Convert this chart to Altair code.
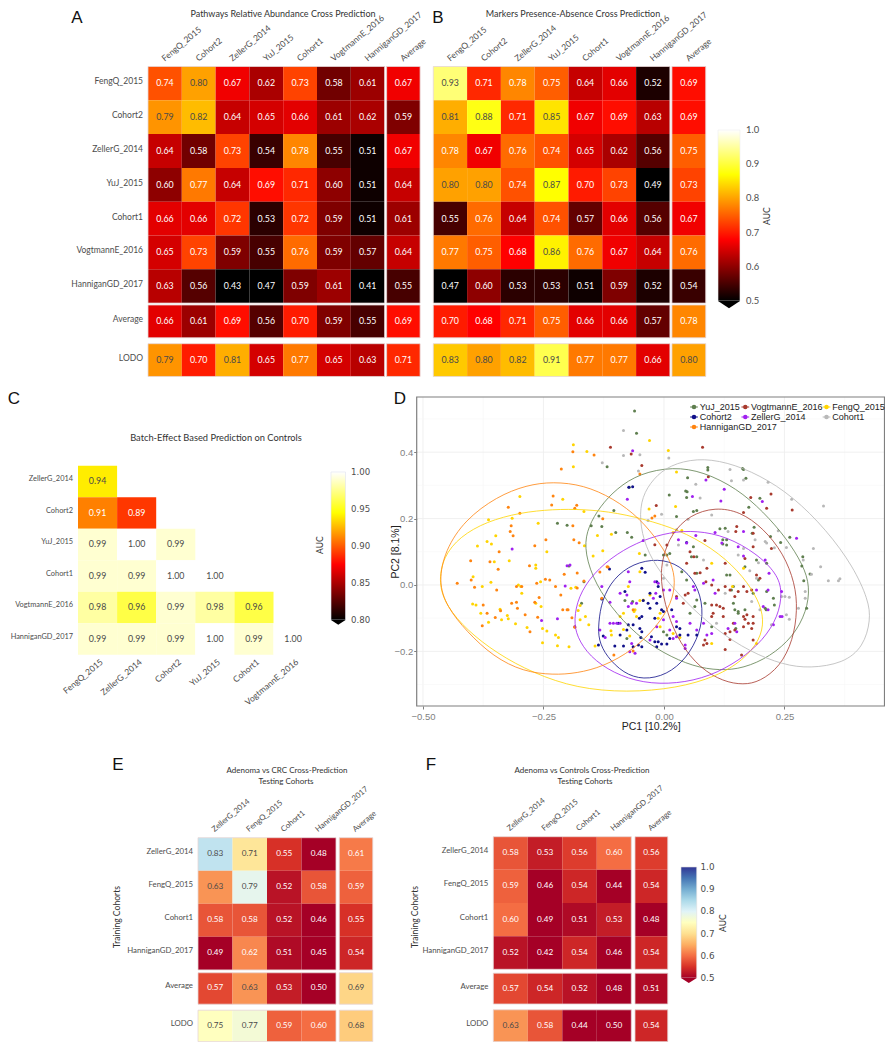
import altair as alt
import pandas as pd

alt.data_transformers.disable_max_rows()

W, H = 877, 1034
LABEL_FONT = "Lato"
PLOT_FONT = "Liberation Sans"
TXT = "#4d4d4d"

names7 = ["FengQ_2015", "Cohort2", "ZellerG_2014", "YuJ_2015", "Cohort1", "VogtmannE_2016", "HanniganGD_2017"]
rows_ab = names7 + ["Average", "LODO"]
cols_ab = names7 + ["Average"]

auc_a = [
    [.74, .80, .67, .62, .73, .58, .61, .67],
    [.79, .82, .64, .65, .66, .61, .62, .59],
    [.64, .58, .73, .54, .78, .55, .51, .67],
    [.60, .77, .64, .69, .71, .60, .51, .64],
    [.66, .66, .72, .53, .72, .59, .51, .61],
    [.65, .73, .59, .55, .76, .59, .57, .64],
    [.63, .56, .43, .47, .59, .61, .41, .55],
    [.66, .61, .69, .56, .70, .59, .55, .69],
    [.79, .70, .81, .65, .77, .65, .63, .71],
]
auc_b = [
    [.93, .71, .78, .75, .64, .66, .52, .69],
    [.81, .88, .71, .85, .67, .69, .63, .69],
    [.78, .67, .76, .74, .65, .62, .56, .75],
    [.80, .80, .74, .87, .70, .73, .49, .73],
    [.55, .76, .64, .74, .57, .66, .56, .67],
    [.77, .75, .68, .86, .76, .67, .64, .76],
    [.47, .60, .53, .53, .51, .59, .52, .54],
    [.70, .68, .71, .75, .66, .66, .57, .78],
    [.83, .80, .82, .91, .77, .77, .66, .80],
]
rows_c = ["ZellerG_2014", "Cohort2", "YuJ_2015", "Cohort1", "VogtmannE_2016", "HanniganGD_2017"]
cols_c = ["FengQ_2015", "ZellerG_2014", "Cohort2", "YuJ_2015", "Cohort1", "VogtmannE_2016"]
auc_c = [
    [.94],
    [.91, .89],
    [.99, 1.00, .99],
    [.99, .99, 1.00, 1.00],
    [.98, .96, .99, .98, .96],
    [.99, .99, .99, 1.00, .99, 1.00],
]
rows_ef = ["ZellerG_2014", "FengQ_2015", "Cohort1", "HanniganGD_2017", "Average", "LODO"]
cols_ef = ["ZellerG_2014", "FengQ_2015", "Cohort1", "HanniganGD_2017", "Average"]
auc_e = [
    [.83, .71, .55, .48, .61],
    [.63, .79, .52, .58, .59],
    [.58, .58, .52, .46, .55],
    [.49, .62, .51, .45, .54],
    [.57, .63, .53, .50, .69],
    [.75, .77, .59, .60, .68],
]
auc_f = [
    [.58, .53, .56, .60, .56],
    [.59, .46, .54, .44, .54],
    [.60, .49, .51, .53, .48],
    [.52, .42, .54, .46, .54],
    [.57, .54, .52, .48, .51],
    [.63, .58, .44, .50, .54],
]

hot_ab = ([.5, .68, .87, 1.0], ["#000000", "#ff0000", "#ffff00", "#ffffff"])
hot_c = ([.8, .875, .945, 1.0], ["#000000", "#ff0000", "#ffff00", "#ffffff"])
rdylbu_dom = [.5, .55, .6, .65, .7, .75, .8, .85, .9, .95, 1.0]
rdylbu_col = ["#a50026", "#d73027", "#f46d43", "#fdae61", "#fee090", "#ffffbf",
              "#e0f3f8", "#abd9e9", "#74add1", "#4575b4", "#313695"]

series = ["YuJ_2015", "VogtmannE_2016", "FengQ_2015", "Cohort2", "ZellerG_2014", "Cohort1", "HanniganGD_2017"]
series_colors = ["#5f7f4f", "#a83a2e", "#ffd400", "#10108a", "#a020f0", "#b8b8b8", "#ff8410"]

pts_hannigan = [(-.429,.005),(-.400,.015),(-.393,-.007),(-.401,.073),(-.361,.070),(-.344,.047),(-.342,.100),(-.317,.178),
(-.319,.161),(-.313,.148),(-.299,.216),(-.323,.234),(-.268,.118),(-.245,.136),(-.279,.058),(-.264,.005),(-.246,.017),
(-.237,.015),(-.225,-.005),(-.306,-.005),(-.295,-.005),(-.347,-.015),(-.375,-.060),(-.367,-.085),(-.377,-.123),
(-.350,-.098),(-.339,-.078),(-.316,-.055),(-.306,-.052),(-.288,-.090),(-.304,-.070),(-.278,-.141),(-.262,-.097),
(-.259,-.038),(-.268,-.052),(-.230,.268),(-.233,.241),(-.213,.349),(-.189,.401),(-.145,.391),(-.185,.231),(-.189,.178),
(-.187,.136),(-.207,.032),(-.214,-.030),(-.210,-.075),(-.201,-.075),(-.118,.055),(-.129,-.040),(-.104,-.211),(-.050,.334),
(-.176,.127),(-.180,.036),(-.185,-.127),(-.191,-.099),(-.180,-.009),(-.166,.012),(-.133,.039),(-.116,.054),(-.064,-.075),
(-.064,-.199),(-.127,.199),(-.025,.202),(-.019,.208),(-.181,.240),(-.199,-.075)]
pts_feng = [(-.397,-.057),(-.390,-.060),(-.380,-.085),(-.364,-.112),(-.387,.117),(-.367,.131),(-.358,.123),(-.349,.148),
(-.364,.196),(-.315,.201),(-.299,.266),(-.261,.186),(-.243,.100),(-.321,.073),(-.352,.070),(-.266,.060),(-.266,.050),
(-.396,.025),(-.359,.008),(-.377,-.005),(-.302,.000),(-.297,-.005),(-.295,-.025),(-.256,.010),(-.266,-.055),(-.255,-.065),
(-.340,-.073),(-.337,-.105),(-.325,-.092),(-.323,-.102),(-.308,-.117),(-.284,-.128),(-.252,-.131),(-.243,-.139),(-.252,-.174),
(-.225,-.151),(-.219,-.158),(-.221,-.183),(-.197,-.186),(-.188,.356),(-.188,.422),(-.160,.402),(-.210,.258),(-.166,.221),
(-.138,.149),(-.147,.087),(-.127,.103),(-.109,.153),(-.165,.118),(-.193,-.010),(-.183,-.007),(-.174,-.062),(-.178,-.077),
(-.163,-.095),(-.174,-.105),(-.185,-.126),(-.156,-.120),(-.143,-.184),(-.110,-.138),(-.109,-.151),(-.084,-.134),(-.091,-.095),
(-.060,-.075),(-.057,-.095),(-.030,.435),(.009,.405),(.026,.340),(.024,.236),(-.031,.229),(.192,-.176),(.099,.065),(.037,.164),
(.019,.158),(-.071,-.154),(-.008,-.085),(-.043,-.045),(-.029,-.030),(-.074,-.005),(-.050,.040),(-.051,.095),(-.050,-.047),
(-.084,-.085),(-.062,-.080),(-.012,-.100),(-.008,-.126),(.019,-.146),(.033,-.158),(.099,-.176),(.142,-.005),(.165,.050)]
pts_cohort2 = [(-.113,.048),(-.039,.038),(-.046,.050),(-.129,-.042),(-.126,-.154),(-.136,-.181),(-.102,-.184),(-.084,-.184),
(-.064,-.186),(-.053,-.181),(-.046,-.186),(-.015,-.186),(-.012,-.171),(-.005,-.178),(.006,-.178),(-.019,-.171),(-.050,-.131),
(-.046,-.141),(-.074,-.120),(-.077,-.136),(-.091,-.151),(-.051,-.100),(-.046,-.095),(-.019,-.100),(-.005,-.075),(.016,-.075),
(-.001,-.080),(-.029,-.070),(-.015,-.055),(-.008,-.035),(-.029,-.025),(-.012,-.005),(-.015,.010),(-.033,-.055),(-.043,-.047),
(.047,.128),(-.065,.296),(-.073,.294),(.026,-.126),(.033,-.131),(.050,-.151),(.068,-.151),(.033,-.151),(-.026,-.156),(.012,-.161),
(-.081,-.020),(-.095,-.115),(-.064,-.120),(-.048,-.158)]
pts_zeller = [(-.315,.108),(-.065,.404),(-.076,.258),(.125,.288),(.059,.266),(.118,.253),(.087,.316),(.204,.251),(.275,.141),
(.218,.035),(.244,-.020),(.245,-.095),(.210,.075),(.165,.087),(.165,.161),(.106,.158),(.066,.149),(.030,.136),(.047,.126),
(-.195,.060),(-.201,.058),(-.205,-.003),(-.254,-.107),(-.221,-.102),(-.185,-.126),(-.129,-.005),(-.112,-.052),(-.091,-.025),
(-.071,.010),(-.074,.040),(-.043,.134),(-.105,-.115),(-.098,-.115),(-.074,-.065),(-.067,-.055),(-.019,.010),(-.012,.005),
(-.017,-.025),(-.022,-.040),(.012,-.015),(.026,-.040),(.064,-.015),(.061,-.005),(.082,.005),(.102,.015),(.106,-.025),(.154,.115),
(.120,.126),(.216,-.075),(.216,-.015),(.192,-.015),(.206,-.065),(.241,-.095),(.227,-.120),(.044,-.191),(.044,-.181),(.068,-.136),
(.089,-.151),(.099,-.146),(.082,-.115),(.054,-.115),(.026,-.110),(.019,-.095),(-.001,-.105),(.026,-.156),(.019,-.161),(-.015,-.126),
(-.091,-.115),(-.112,-.115),(-.133,-.136),(-.122,-.158),(-.067,-.176),(-.060,-.206),(-.071,-.201),(-.029,-.166),(.012,-.136),
(.151,-.141),(.147,-.115),(.133,-.131),(-.057,-.055),(-.001,-.015),(-.077,-.030)]
pts_vogtmann = [(-.111,.415),(-.068,.394),(-.046,.360),(-.016,.239),(.080,.415),(.092,.326),(.222,.274),(.180,.263),(.266,.226),
(.213,.231),(.165,.218),(.151,.176),(.149,.161),(.185,.156),(.127,.065),(.168,.080),(.185,.115),(.223,.110),(.192,.030),(.199,.020),
(.089,.050),(.075,.037),(.064,.035),(.047,.065),(.054,.100),(.062,.085),(.085,.134),(-.019,.121),(.006,.120),(.087,.010),(.099,.000),
(.113,-.015),(.127,-.005),(.137,-.015),(.165,-.005),(.172,-.020),(.182,-.015),(.154,-.020),(.147,-.035),(.044,-.030),(.050,-.025),
(.099,-.060),(.116,-.065),(.123,-.070),(.102,-.085),(.099,-.095),(.165,-.095),(.185,-.095),(.175,-.115),(.185,-.115),(.182,-.131),
(.165,-.126),(.185,-.166),(.161,-.211),(.127,-.194),(.085,-.166),(.089,-.176),(.082,-.181),(.127,-.146),(.137,-.141),(.144,-.115),
(.147,-.136),(.137,-.164),(.168,-.103),(.172,-.090),(.109,-.060),(.123,-.095),(.040,-.055),(.026,-.035)]
pts_yuj = [(-.061,.524),(-.057,.457),(-.118,.356),(-.072,.294),(.011,.271),(.049,.323),(.045,.283),(.048,.281),(.047,.263),(.091,.354),
(.091,.346),(.163,.351),(.165,.348),(.170,.321),(.199,.261),(.176,.234),(-.135,.208),(-.104,.224),(-.221,.186),(-.201,.180),(-.151,.178),
(-.129,.176),(-.100,.158),(-.076,.158),(-.067,.144),(.026,.206),(.061,.221),(.068,.224),(.116,.169),(.127,.171),(.122,.136),(.130,.136),
(.122,.123),(.130,.120),(.183,.156),(.187,.174),(.221,.146),(.242,.128),(.261,.144),(.288,.085),(.286,.057),(.303,.033),(.213,.065),
(.290,.013),(.227,-.040),(.229,-.060),(.210,-.070),(.212,-.075),(.213,-.020),(.296,-.070),(-.197,.057),(-.166,.010),(-.171,-.055),
(-.081,-.047),(-.065,-.050),(-.039,.090),(-.001,.090),(.006,.090),(.012,.095),(.061,.115),(.068,.085),(.057,.085),(.037,.040),(.068,.035),
(.047,.015),(.137,.030),(.130,.030),(.168,.055),(.196,.015),(.144,-.005),(.140,-.015),(.144,-.055),(.147,-.075),(.154,-.080),(.154,-.085),
(.149,-.131),(.068,-.045),(.054,-.085),(.085,-.055),(.099,-.126),(-.001,-.141),(.006,-.151),(-.077,-.161),(.064,-.065),(.192,.075),
(.185,-.025),(.168,-.075)]
pts_cohort1 = [(-.084,.465),(-.084,.390),(-.050,.392),(-.128,.368),(-.053,.343),(.010,.382),(.066,.303),(.075,.262),(.137,.348),(.140,.314),
(.165,.316),(.216,.309),(.265,.258),(.331,.238),(.237,.163),(.210,.131),(.189,.136),(.213,.126),(.229,.112),(.254,.113),(.289,.075),
(.310,.110),(.306,.032),(.325,.055),(.341,.013),(.362,.013),(.365,.019),(.293,-.020),(.293,-.040),(.251,-.035),(.260,-.037),(.244,-.035),
(.254,-.090),(.260,-.103),(.223,-.120),(.196,.067),(.178,.043),(.192,.020),(-.005,.213),(-.033,.194),(.030,.120),(.026,.166),(.050,.198),
(.099,.211),(.133,.161),(.165,.110),(.154,.090),(.279,-.070),(-.001,.020),(.006,.060),(.082,.075),(.182,-.050),(.199,-.075),(.127,-.025),(.109,-.115)]

ell_hannigan = [(-.468,.010),(-.454,.105),(-.413,.196),(-.347,.266),(-.285,.301),(-.230,.311),(-.167,.301),(-.105,.261),(-.050,.201),
(-.008,.125),(.016,.065),(.024,.010),(.016,-.055),(-.015,-.126),(-.064,-.196),(-.126,-.246),(-.181,-.266),(-.230,-.271),(-.292,-.261),
(-.354,-.216),(-.409,-.141),(-.451,-.065)]
ell_feng = [(-.468,.005),(-.458,.085),(-.423,.146),(-.368,.191),(-.299,.218),(-.230,.228),(-.167,.228),(-.098,.218),(-.022,.191),(.047,.156),
(.116,.095),(.165,.025),(.196,-.045),(.208,-.105),(.199,-.166),(.165,-.226),(.109,-.276),(.026,-.311),(-.077,-.324),(-.181,-.311),
(-.271,-.266),(-.347,-.206),(-.409,-.136),(-.451,-.065)]
ell_yuj = [(-.166,.115),(-.157,.176),(-.133,.236),(-.098,.291),(-.050,.336),(.019,.356),(.082,.341),(.151,.291),(.206,.221),(.254,.141),
(.289,.060),(.303,-.005),(.296,-.080),(.268,-.156),(.220,-.216),(.165,-.251),(.116,-.258),(.061,-.246),(-.001,-.206),(-.057,-.151),
(-.112,-.065),(-.150,.025)]
ell_cohort1 = [(-.051,.196),(-.046,.266),(-.022,.321),(.012,.361),(.068,.382),(.130,.371),(.199,.331),(.268,.266),(.337,.166),(.393,.055),
(.424,-.045),(.429,-.105),(.414,-.186),(.372,-.236),(.303,-.251),(.248,-.241),(.178,-.201),(.109,-.136),(.047,-.055),(-.008,.035),(-.039,.115)]
ell_vogtmann = [(-.008,.015),(-.003,.085),(.016,.156),(.054,.211),(.106,.234),(.158,.221),(.206,.171),(.248,.095),(.272,.005),(.277,-.075),
(.268,-.166),(.241,-.246),(.199,-.291),(.165,-.301),(.123,-.291),(.075,-.251),(.033,-.176),(.006,-.085)]
ell_zeller = [(-.187,-.105),(-.178,-.035),(-.147,.035),(-.098,.095),(-.043,.136),(.012,.159),(.068,.164),(.130,.146),(.192,.095),(.234,.035),
(.246,-.020),(.237,-.095),(.206,-.166),(.158,-.226),(.095,-.276),(.026,-.298),(-.043,-.296),(-.105,-.266),(-.154,-.216),(-.181,-.156)]
ell_cohort2 = [(-.136,-.115),(-.129,-.045),(-.105,.020),(-.064,.065),(-.012,.080),(.033,.060),(.068,.005),(.082,-.070),(.075,-.146),
(.047,-.221),(.006,-.271),(-.043,-.286),(-.084,-.266),(-.119,-.216),(-.136,-.166)]

points_by_series = {"YuJ_2015": pts_yuj, "VogtmannE_2016": pts_vogtmann, "FengQ_2015": pts_feng, "Cohort2": pts_cohort2,
                    "ZellerG_2014": pts_zeller, "Cohort1": pts_cohort1, "HanniganGD_2017": pts_hannigan}
ellipses_by_series = {"YuJ_2015": ell_yuj, "VogtmannE_2016": ell_vogtmann, "FengQ_2015": ell_feng, "Cohort2": ell_cohort2,
                      "ZellerG_2014": ell_zeller, "Cohort1": ell_cohort1, "HanniganGD_2017": ell_hannigan}


def page_x(v):
    return v - 8


def page_y(v):
    return v - 8


def lin(domain, rng):
    return alt.Scale(domain=list(domain), range=[page_x(rng[0]), page_x(rng[1])], nice=False, zero=False, clamp=False)


identity_x = alt.Scale(domain=[0, W], range=[0, W], nice=False, zero=False)
identity_y = alt.Scale(domain=[0, H], range=[0, H], nice=False, zero=False)


def page_text(items, size, color=TXT, font=LABEL_FONT, angle=0, align="center", weight="normal"):
    df = pd.DataFrame([{"t": t, "x": page_x(x), "y": page_y(y)} for t, x, y in items])
    kw = dict(fontSize=size, color=color, font=font, align=align, baseline="middle", fontWeight=weight)
    if angle:
        kw["angle"] = angle
    return alt.Chart(df).mark_text(**kw).encode(
        x=alt.X("x:Q", scale=identity_x, axis=None),
        y=alt.Y("y:Q", scale=identity_y, axis=None),
        text="t:N",
    )


def heat_panel(matrix, rows, cols, x_left, y_top, cw, rh, col_gap, col_last, row_gap1, row_h1, row_gap2, row_h2,
               n_main_rows, cscale, dark_from, fs, lab_fs, top_labels=True, show_rows=True, row_fs=None):
    col_edges = []
    for j in range(len(cols)):
        if j < len(cols) - 1:
            col_edges.append((j, j + 1))
        else:
            col_edges.append((j + col_gap, j + col_gap + col_last))
    row_edges = []
    for i in range(len(rows)):
        if i < n_main_rows:
            row_edges.append((i, i + 1))
        elif i == n_main_rows:
            row_edges.append((i + row_gap1, i + row_gap1 + row_h1))
        else:
            a = n_main_rows + row_gap1 + row_h1 + row_gap2
            row_edges.append((a, a + row_h2))
    xmax = col_edges[-1][1]
    ymax = row_edges[-1][1]
    xs = lin([0, xmax], (x_left, x_left + xmax * cw))
    ys = lin([0, ymax], (y_top, y_top + ymax * rh))
    recs = []
    for i, row in enumerate(matrix):
        for j, v in enumerate(row):
            recs.append({"x0": col_edges[j][0], "x1": col_edges[j][1], "y0": row_edges[i][0], "y1": row_edges[i][1],
                         "xc": sum(col_edges[j]) / 2, "yc": sum(row_edges[i]) / 2, "v": v, "t": f"{v:.2f}",
                         "ink": "#4a4a4a" if v >= dark_from else "#ffffff"})
    df = pd.DataFrame(recs)
    X = alt.X("x0:Q", scale=xs, axis=None)
    Y = alt.Y("y0:Q", scale=ys, axis=None)
    cells = alt.Chart(df).mark_rect().encode(
        x=X, x2="x1:Q", y=Y, y2="y1:Q",
        color=alt.Color("v:Q", scale=alt.Scale(domain=cscale[0], range=cscale[1], clamp=True, interpolate="rgb"), legend=None),
    )
    nums = alt.Chart(df).mark_text(fontSize=fs, font=LABEL_FONT, baseline="middle").encode(
        x=alt.X("xc:Q", scale=xs, axis=None), y=alt.Y("yc:Q", scale=ys, axis=None), text="t:N",
        color=alt.Color("ink:N", scale=None),
    )
    out = [cells]
    block_recs = []
    if top_labels:
        main_x = (col_edges[0][0], col_edges[-2][1])
        last_x = col_edges[-1]
        for ra, rb in ((0, n_main_rows), row_edges[n_main_rows], row_edges[n_main_rows + 1]):
            for xa, xb in (main_x, last_x):
                block_recs.append({"x0": xa, "x1": xb, "y0": ra, "y1": rb})
        blocks = alt.Chart(pd.DataFrame(block_recs)).mark_rect(filled=False, stroke="#e6d5d5", strokeWidth=0.8).encode(
            x=X, x2="x1:Q", y=Y, y2="y1:Q")
        out.append(blocks)
    out.append(nums)
    if show_rows:
        row_df = pd.DataFrame([{"t": r, "x": -5.0 / cw, "y": sum(row_edges[i]) / 2 - 2.0 / rh} for i, r in enumerate(rows)])
        out.append(alt.Chart(row_df).mark_text(fontSize=row_fs or lab_fs, font=LABEL_FONT, color=TXT, align="right", baseline="middle").encode(
            x=alt.X("x:Q", scale=xs, axis=None), y=alt.Y("y:Q", scale=ys, axis=None), text="t:N"))
    if top_labels:
        col_df = pd.DataFrame([{"t": c, "x": sum(col_edges[j]) / 2 - 2.0 / cw, "y": -7.0 / rh} for j, c in enumerate(cols)])
    else:
        col_df = pd.DataFrame([{"t": c, "x": sum(col_edges[j]) / 2 + 4.0 / cw, "y": ymax + 6.0 / rh} for j, c in enumerate(cols)])
    out.append(alt.Chart(col_df).mark_text(fontSize=lab_fs, font=LABEL_FONT, color=TXT, angle=320,
                                           align="left" if top_labels else "right", baseline="middle").encode(
        x=alt.X("x:Q", scale=xs, axis=None), y=alt.Y("y:Q", scale=ys, axis=None), text="t:N"))
    return out


def color_key(domain, stops, ticks, fmt, x0, x1, y_bottom, y_top, tip_color, label_x, label_font, label_fs, border):
    ys = lin(domain, (y_bottom, y_top))
    bar = pd.DataFrame({"x0": [page_x(x0)], "x1": [page_x(x1)], "lo": [domain[0]], "hi": [domain[1]]})
    grad = alt.Gradient(gradient="linear", x1=0, y1=1, x2=0, y2=0,
                        stops=[alt.GradientStop(color=c, offset=o) for o, c in stops])
    gbar = alt.Chart(bar).mark_rect(color=grad, stroke=border, strokeWidth=0.6).encode(
        x=alt.X("x0:Q", scale=identity_x, axis=None), x2="x1:Q",
        y=alt.Y("lo:Q", scale=ys, axis=None), y2="hi:Q")
    tip = pd.DataFrame({"x": [page_x((x0 + x1) / 2)], "y": [domain[0]]})
    width = x1 - x0
    tipm = alt.Chart(tip).mark_point(shape="M-1,0L1,0L0,0.65Z", filled=True, color=tip_color, opacity=1,
                                     size=width * width, strokeWidth=0).encode(
        x=alt.X("x:Q", scale=identity_x, axis=None), y=alt.Y("y:Q", scale=ys, axis=None))
    lab = pd.DataFrame({"x": [page_x(label_x)] * len(ticks), "y": ticks, "t": [format(t, fmt) for t in ticks]})
    labs = alt.Chart(lab).mark_text(fontSize=label_fs, font=label_font, color=TXT, align="left", baseline="middle").encode(
        x=alt.X("x:Q", scale=identity_x, axis=None), y=alt.Y("y:Q", scale=ys, axis=None), text="t:N")
    return [gbar, tipm, labs]


layers = []

# Panels A and B
layers += heat_panel(auc_a, rows_ab, cols_ab, 148, 66.5, 33.8, 33.8, .06, .99, .056, .97, .175, .97, 7, hot_ab, .79, 8.8, 8.5)
layers += heat_panel(auc_b, rows_ab, cols_ab, 433.3, 66.5, 33.8, 33.8, .06, 1.0, .056, .97, .175, .97, 7, hot_ab, .79, 8.8, 8.5,
                     show_rows=False)
layers += color_key([.5, 1.0], [(0, "#000000"), (.36, "#ff0000"), (.74, "#ffff00"), (1, "#ffffff")],
                    [.5, .6, .7, .8, .9, 1.0], ".1f", 718, 740, 301, 130, "#000000", 746, LABEL_FONT, 9.4, "#eeeeee")

# Panel C
layers += heat_panel(auc_c, rows_c, cols_c, 78, 465.7, 39.1, 31.5, 0, 1, 0, 1, 0, 1, 6, hot_c, .92, 8.8, 8.5,
                     top_labels=False, row_fs=7.4)
layers += color_key([.8, 1.0], [(0, "#000000"), (.375, "#ff0000"), (.725, "#ffff00"), (1, "#ffffff")],
                    [.8, .85, .9, .95, 1.0], ".2f", 331, 345.5, 620, 472, "#000000", 351, "DejaVu Sans", 8.6, "#dfe3ee")

# Panel D
D_X0, D_X1, D_Y0, D_Y1 = -.513, .4575, -.3645, .566
dx = lin([D_X0, D_X1], (416.7, 884.5))
dy = lin([D_Y0, D_Y1], (706, 397))
frame = pd.DataFrame({"x0": [D_X0], "x1": [D_X1], "y0": [D_Y0], "y1": [D_Y1]})
grid_x_major = [-.5, -.25, 0, .25]
grid_x_minor = [-.375, -.125, .125, .375]
grid_y_major = [-.2, 0, .2, .4]
grid_y_minor = [-.3, -.1, .1, .3, .5]
xr = alt.X("x0:Q", scale=dx, axis=None)
yr = alt.Y("y0:Q", scale=dy, axis=None)
for vals, col, sw in ((grid_x_minor, "#f6f6f6", .6), (grid_x_major, "#eeeeee", .9)):
    g = pd.DataFrame({"x0": vals, "y0": D_Y0, "y1": D_Y1})
    layers.append(alt.Chart(g).mark_rule(color=col, strokeWidth=sw).encode(x=xr, y=yr, y2="y1:Q"))
for vals, col, sw in ((grid_y_minor, "#f6f6f6", .6), (grid_y_major, "#eeeeee", .9)):
    g = pd.DataFrame({"y0": vals, "x0": D_X0, "x1": D_X1})
    layers.append(alt.Chart(g).mark_rule(color=col, strokeWidth=sw).encode(x=xr, x2="x1:Q", y=yr))

pts = pd.DataFrame([{"s": s, "x": p[0], "y": p[1]} for s in series for p in points_by_series[s]])
ell = pd.DataFrame([{"s": s, "i": i, "x": p[0], "y": p[1]} for s in series for i, p in enumerate(ellipses_by_series[s])])
cs = alt.Scale(domain=series, range=series_colors)
axis_x = alt.Axis(values=grid_x_major, format=".2f", grid=False, offset=-(H - page_y(706)), title="PC1 [10.2%]",
                  labelFont=PLOT_FONT, labelFontSize=9.5, labelColor="#7f7f7f", tickColor="#7f7f7f", tickSize=3,
                  domain=False, titleFont=PLOT_FONT, titleFontSize=10.5, titleFontWeight="normal", titleColor="#222222",
                  titlePadding=1, labelPadding=2)
axis_y = alt.Axis(values=grid_y_major, format=".1f", grid=False, offset=-page_x(416.7), title="PC2 [8.1%]",
                  labelFont=PLOT_FONT, labelFontSize=9.5, labelColor="#7f7f7f", tickColor="#7f7f7f", tickSize=3,
                  domain=False, titleFont=PLOT_FONT, titleFontSize=10.5, titleFontWeight="normal", titleColor="#222222",
                  titlePadding=-7, labelPadding=1)
layers.append(alt.Chart(pts).mark_circle(size=9, opacity=1).encode(
    x=alt.X("x:Q", scale=dx, axis=axis_x), y=alt.Y("y:Q", scale=dy, axis=axis_y),
    color=alt.Color("s:N", scale=cs, legend=None)))
layers.append(alt.Chart(ell).mark_line(interpolate="basis-closed", strokeWidth=1, opacity=.8).encode(
    x=alt.X("x:Q", scale=dx, axis=None), y=alt.Y("y:Q", scale=dy, axis=None),
    color=alt.Color("s:N", scale=cs, legend=None), order="i:Q"))
layers.append(alt.Chart(frame).mark_rect(filled=False, stroke="#7f7f7f", strokeWidth=1.2).encode(
    x=xr, x2="x1:Q", y=yr, y2="y1:Q"))

# Panel D key
key_col_x = [694, 745.3, 826.5]
key_row_y = [407, 417, 427]
key_layout = [("YuJ_2015", 0, 0), ("VogtmannE_2016", 1, 0), ("FengQ_2015", 2, 0), ("Cohort2", 0, 1),
              ("ZellerG_2014", 1, 1), ("Cohort1", 2, 1), ("HanniganGD_2017", 0, 2)]
key_df = pd.DataFrame([{"s": s, "x": page_x(key_col_x[c]), "y": page_y(key_row_y[r])} for s, c, r in key_layout])
layers.append(alt.Chart(key_df).mark_point(shape="stroke", size=60, strokeWidth=1, opacity=1).encode(
    x=alt.X("x:Q", scale=identity_x, axis=None), y=alt.Y("y:Q", scale=identity_y, axis=None),
    color=alt.Color("s:N", scale=cs, legend=None)))
layers.append(alt.Chart(key_df).mark_circle(size=20, opacity=1).encode(
    x=alt.X("x:Q", scale=identity_x, axis=None), y=alt.Y("y:Q", scale=identity_y, axis=None),
    color=alt.Color("s:N", scale=cs, legend=None)))
layers.append(page_text([(s, key_col_x[c] + 5.7, key_row_y[r]) for s, c, r in key_layout], 9, color="#222222",
                        font=PLOT_FONT, align="left"))

# Panels E and F
layers += heat_panel(auc_e, rows_ef, cols_ef, 198, 837.7, 34.5, 33.05, .096, .97, .087, .95, .183, .95, 4,
                     (rdylbu_dom, rdylbu_col), .63, 8.2, 7.8)
layers += heat_panel(auc_f, rows_ef, cols_ef, 493.3, 836.7, 34.5, 33.15, .107, .95, .117, .93, .175, .96, 4,
                     (rdylbu_dom, rdylbu_col), .63, 8.2, 7.8)
layers += color_key([.5, 1.0], [((d - .5) / .5, c) for d, c in zip(rdylbu_dom, rdylbu_col)],
                    [.5, .6, .7, .8, .9, 1.0], ".1f", 681, 696.7, 978, 867, "#a50026", 700.5, "DejaVu Sans", 8.8, "#dddddd")

# Titles, panel letters and rotated captions
layers.append(page_text([("A", 77, 17.5), ("B", 438, 17.5), ("C", 14, 399), ("D", 400, 399), ("E", 118, 765), ("F", 431, 765)],
                        17, color="#111111", font=PLOT_FONT))
layers.append(page_text([("Pathways Relative Abundance Cross Prediction", 283, 13.5),
                         ("Markers Presence-Absence Cross Prediction", 573, 13.5)], 9, color="#333333"))
layers.append(page_text([("Batch-Effect Based Prediction on Controls", 216, 438)], 9.3, color="#333333"))
layers.append(page_text([("Adenoma vs CRC Cross-Prediction", 287, 771), ("Testing Cohorts", 286, 782),
                         ("Adenoma vs Controls Cross-Prediction", 582, 771), ("Testing Cohorts", 585, 782)], 8, color="#333333"))
layers.append(page_text([("Training Cohorts", 117, 917), ("Training Cohorts", 415, 917),
                         ("AUC", 767, 216), ("AUC", 320, 545), ("AUC", 723, 923)], 8.6, color="#333333", angle=270))

chart = alt.layer(*layers).resolve_scale(x="independent", y="independent", color="independent").properties(
    width=W, height=H, padding=0, autosize=alt.AutoSizeParams(type="none")
).configure_view(stroke=None).configure_axis(labelOverlap=False)

chart.save("out.html", embed_options={"renderer": "svg", "actions": False})
